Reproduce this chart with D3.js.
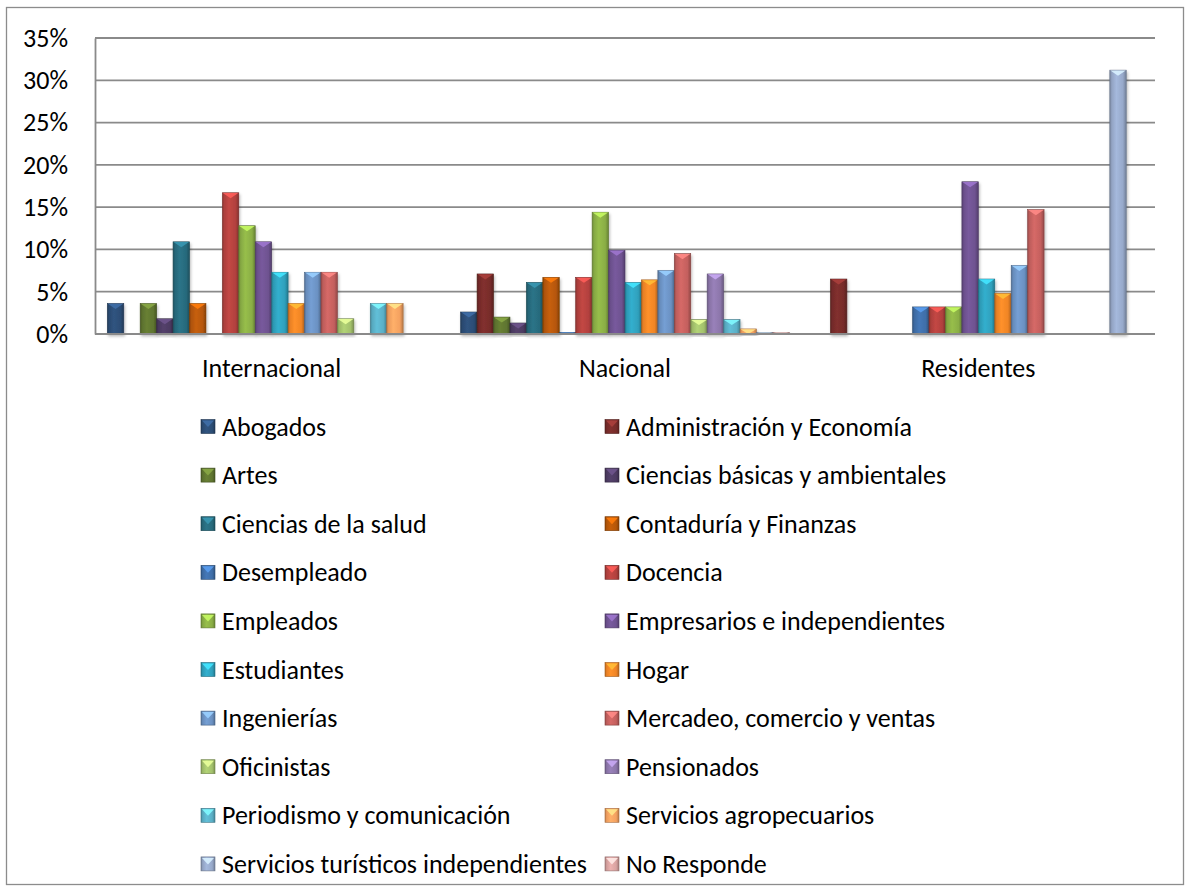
<!DOCTYPE html>
<html>
<head>
<meta charset="utf-8">
<script src="https://cdn.jsdelivr.net/npm/d3@7"></script>
<style>
  html, body { margin: 0; padding: 0; background: #fff; }
  svg { display: block; }
  text { font-family: Carlito, Calibri, Lato, "Open Sans", sans-serif; fill: #000; }
</style>
</head>
<body>
<svg id="chart" width="1186" height="892"></svg>
<script>
const categories = ["Internacional", "Nacional", "Residentes"];
const seriesNames = [
  "Abogados", "Administración y Economía",
  "Artes", "Ciencias básicas y ambientales",
  "Ciencias de la salud", "Contaduría y Finanzas",
  "Desempleado", "Docencia",
  "Empleados", "Empresarios e independientes",
  "Estudiantes", "Hogar",
  "Ingenierías", "Mercadeo, comercio y ventas",
  "Oficinistas", "Pensionados",
  "Periodismo y comunicación", "Servicios agropecuarios",
  "Servicios turísticos independientes", "No Responde"
];
// percentages, one per series, in series order
const internacional = [3.6, 0, 3.6, 1.8, 10.9, 3.6, 0, 16.7, 12.8, 10.9, 7.3, 3.6, 7.3, 7.3, 1.8, 0, 3.6, 3.6, 0, 0];
const nacional      = [2.6, 7.1, 2.0, 1.3, 6.1, 6.7, 0.2, 6.7, 14.4, 9.9, 6.1, 6.4, 7.5, 9.5, 1.7, 7.1, 1.7, 0.6, 0.2, 0.2];
const residentes    = [0, 6.5, 0, 0, 0, 0, 3.2, 3.2, 3.2, 18.0, 6.5, 4.8, 8.1, 14.7, 0, 0, 0, 0, 31.2, 0];
const seriesColors = [
  "#2C4D75", "#772C2A", "#5F7530", "#4D3B62", "#276A7C", "#B65708",
  "#3F6EA8", "#B2413E", "#8AAE45", "#6E5290", "#2FA0BC", "#F08526",
  "#6B91C2", "#C4605E", "#A3C16C", "#8C76AA", "#5AAFC6", "#F4A160",
  "#97A9CA", "#D9A3A1"
];
const tickValues = [0, 5, 10, 15, 20, 25, 30, 35];

const valuesByCategory = [internacional, nacional, residentes];
const data = categories.map((c, ci) => ({
  category: c,
  bars: seriesNames.map((s, si) => ({ series: s, si, value: valuesByCategory[ci][si] }))
}));

const svg = d3.select("#chart");
const plot = { left: 95, right: 1155, top: 38, bottom: 334 };
const FS = 26;
const FONT = "Carlito, Calibri, Lato, sans-serif";

// outer border
svg.append("rect").attr("x", 6.5).attr("y", 7.5).attr("width", 1177).attr("height", 877)
  .attr("fill", "#fff").attr("stroke", "#8c8c8c").attr("stroke-width", 1.3);

const defs = svg.append("defs");
seriesColors.forEach((c, i) => {
  const base = d3.color(c);
  const g = defs.append("linearGradient").attr("id", "g" + i)
    .attr("x1", "0").attr("x2", "1").attr("y1", "0").attr("y2", "0");
  g.append("stop").attr("offset", "0").attr("stop-color", base.darker(0.7));
  g.append("stop").attr("offset", "0.12").attr("stop-color", base.darker(0.1));
  g.append("stop").attr("offset", "0.4").attr("stop-color", base.brighter(0.25));
  g.append("stop").attr("offset", "0.8").attr("stop-color", base);
  g.append("stop").attr("offset", "1").attr("stop-color", base.darker(0.8));
});
const f = defs.append("filter").attr("id", "shadow").attr("x", "-30%").attr("y", "-10%").attr("width", "160%").attr("height", "130%");
f.append("feDropShadow").attr("dx", 1).attr("dy", 2).attr("stdDeviation", 1.6)
  .attr("flood-color", "#000").attr("flood-opacity", 0.28);

const x0 = d3.scaleBand().domain(categories).range([plot.left, plot.right]).padding(0);
const x1 = d3.scaleBand().domain(seriesNames).range([0, x0.bandwidth()])
  .paddingInner(0).paddingOuter(0.75);
const y = d3.scaleLinear().domain([0, 35]).range([plot.bottom, plot.top]);

// gridlines
svg.append("g").selectAll("line").data(tickValues.filter(v => v > 0)).join("line")
  .attr("x1", plot.left).attr("x2", plot.right)
  .attr("y1", d => y(d)).attr("y2", d => y(d))
  .attr("stroke", "#8a8a8a").attr("stroke-width", 1.8);

// y axis
const yAxis = d3.axisLeft(y).tickValues(tickValues).tickFormat(d => d + "%").tickSize(0).tickPadding(27);
const ya = svg.append("g").attr("transform", `translate(${plot.left},0)`).call(yAxis);
ya.select(".domain").attr("stroke", "#8a8a8a").attr("stroke-width", 1.8);
ya.selectAll("text").attr("font-size", FS).attr("fill", "#000").style("font-family", FONT);

// bars
const groups = svg.append("g").selectAll("g.cat").data(data).join("g")
  .attr("class", "cat").attr("transform", d => `translate(${x0(d.category)},0)`);
const bars = groups.selectAll("g.bar").data(d => d.bars.filter(b => b.value > 0)).join("g").attr("class", "bar");
bars.append("rect")
  .attr("x", d => x1(d.series)).attr("width", x1.bandwidth())
  .attr("y", d => y(d.value)).attr("height", d => y(0) - y(d.value))
  .attr("fill", d => `url(#g${d.si})`)
  .attr("stroke", d => d3.color(seriesColors[d.si]).darker(1.1))
  .attr("stroke-width", 0.6)
  .attr("filter", "url(#shadow)");
bars.append("path")
  .attr("d", d => {
    const xl = x1(d.series), w = x1.bandwidth(), yt = y(d.value);
    const h = Math.min(5.5, y(0) - yt);
    return `M${xl + 0.5},${yt + 0.3} L${xl + w - 0.5},${yt + 0.3} L${xl + w / 2},${yt + h} Z`;
  })
  .attr("fill", d => d3.color(seriesColors[d.si]).brighter(1.0))
  .attr("opacity", 0.9);

// x axis line
svg.append("line").attr("x1", plot.left).attr("x2", plot.right)
  .attr("y1", plot.bottom).attr("y2", plot.bottom)
  .attr("stroke", "#8a8a8a").attr("stroke-width", 2);

// category labels
const xAxis = d3.axisBottom(x0).tickSize(0).tickPadding(25);
const xa = svg.append("g").attr("transform", `translate(0,${plot.bottom})`).call(xAxis);
xa.select(".domain").remove();
xa.selectAll("text").attr("font-size", FS).attr("fill", "#000").style("font-family", FONT);

// legend
const legend = svg.append("g");
const colX = [201, 605], row0 = 426.5, rowH = 48.6, ms = 14;
const items = legend.selectAll("g").data(seriesNames).join("g")
  .attr("transform", (d, i) => `translate(${colX[i % 2]},${row0 + Math.floor(i / 2) * rowH})`);
items.append("rect").attr("x", 0).attr("y", -ms / 2).attr("width", ms).attr("height", ms)
  .attr("fill", (d, i) => `url(#g${i})`)
  .attr("stroke", (d, i) => d3.color(seriesColors[i]).darker(1.1)).attr("stroke-width", 0.6);
items.append("path")
  .attr("d", `M1,${-ms / 2 + 1} L${ms - 1},${-ms / 2 + 1} L${ms / 2},${0.5} Z`)
  .attr("fill", (d, i) => d3.color(seriesColors[i]).brighter(1.0)).attr("opacity", 0.9);
items.append("text").attr("x", 21).attr("y", 0).attr("dy", "0.35em")
  .attr("font-size", FS).style("font-family", FONT).text(d => d);
</script>
</body>
</html>
